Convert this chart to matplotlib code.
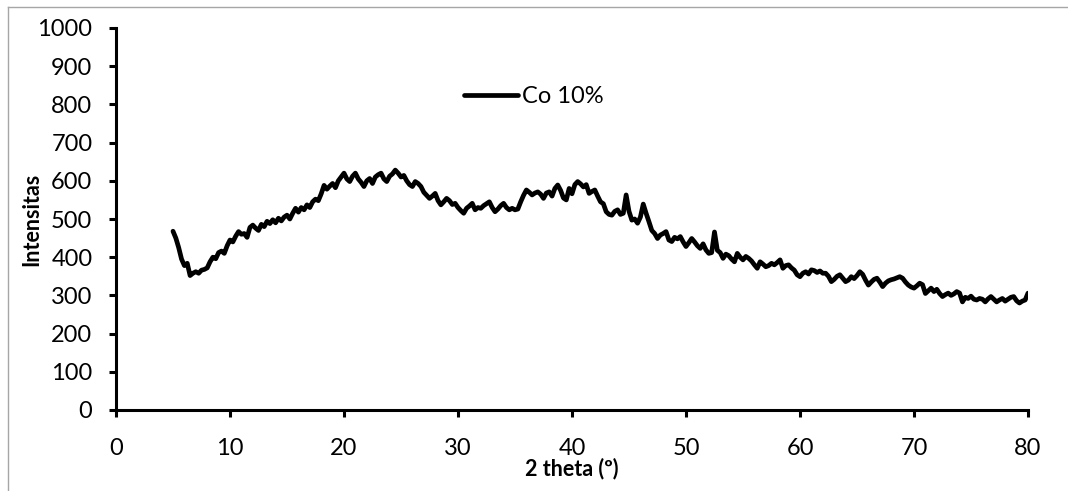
import numpy as np
import matplotlib
matplotlib.use("Agg")
import matplotlib.pyplot as plt
from matplotlib.lines import Line2D

# XRD scan: 2-theta from 5 to 80 degrees, step 0.25
theta_start = 5.0
theta_end = 80.0
theta_step = 0.25

intensity = [
    468, 450, 425, 395, 378, 384, 352, 358, 362, 358, 366, 368, 372, 388, 400, 396, 412, 416, 410, 430,
    445, 440, 455, 467, 460, 462, 452, 478, 484, 476, 470, 486, 480, 494, 488, 498, 490, 502, 495, 505,
    510, 500, 515, 528, 518, 530, 524, 537, 530, 545, 552, 548, 566, 588, 578, 586, 593, 582, 600, 610,
    620, 605, 598, 612, 620, 605, 596, 585, 600, 606, 593, 610, 616, 620, 605, 598, 612, 618, 628, 620,
    610, 614, 600, 590, 585, 598, 593, 585, 570, 562, 554, 560, 567, 548, 537, 545, 554, 548, 538, 541,
    530, 522, 515, 528, 534, 541, 524, 530, 528, 535, 540, 545, 530, 519, 526, 535, 541, 530, 524, 528,
    524, 526, 545, 562, 576, 570, 563, 568, 571, 565, 554, 568, 571, 560, 580, 589, 575, 555, 550, 580,
    566, 590, 598, 592, 584, 590, 567, 572, 576, 560, 545, 540, 519, 512, 510, 520, 524, 512, 515, 563,
    520, 497, 500, 489, 505, 539, 515, 493, 470, 462, 449, 458, 462, 467, 445, 441, 452, 448, 454, 440,
    428, 438, 449, 440, 430, 423, 435, 419, 410, 412, 466, 418, 412, 397, 408, 404, 395, 388, 410, 400,
    393, 402, 397, 390, 380, 371, 388, 382, 375, 378, 384, 380, 386, 393, 371, 378, 380, 372, 366, 354,
    349, 358, 362, 356, 367, 365, 360, 364, 358, 358, 350, 336, 342, 350, 354, 345, 336, 340, 349, 344,
    352, 362, 355, 340, 327, 335, 342, 345, 335, 323, 332, 338, 341, 343, 346, 349, 345, 335, 327, 322,
    319, 325, 332, 328, 305, 312, 319, 310, 316, 305, 297, 302, 306, 300, 304, 310, 306, 283, 295, 292,
    298, 290, 288, 292, 290, 283, 291, 297, 290, 283, 288, 292, 285, 290, 295, 297, 286, 280, 285, 288,
    306,
]

two_theta = theta_start + theta_step * np.arange(len(intensity))

x_ticks = [0, 10, 20, 30, 40, 50, 60, 70, 80]
y_ticks = [0, 100, 200, 300, 400, 500, 600, 700, 800, 900, 1000]

series_label = "Co 10%"
x_label = "2 theta (º)"
y_label = "Intensitas"

plt.rcParams["font.family"] = ["Lato", "DejaVu Sans"]

fig = plt.figure(figsize=(10.68, 4.91), dpi=100)
ax = fig.add_axes([116 / 1068, 1 - 410 / 491, 912 / 1068, 382 / 491])

ax.plot(two_theta, intensity, color="black", lw=3.4, label=series_label,
        solid_joinstyle="round", solid_capstyle="round")

ax.set_xlim(0, 80)
ax.set_ylim(0, 1000)
ax.set_xticks(x_ticks)
ax.set_yticks(y_ticks)

for side in ("top", "right"):
    ax.spines[side].set_visible(False)
for side in ("left", "bottom"):
    ax.spines[side].set_linewidth(2.2)
    ax.spines[side].set_color("black")

ax.tick_params(axis="both", direction="out", length=5, width=2.2,
               labelsize=17, colors="black")
ax.tick_params(axis="y", pad=12)
ax.tick_params(axis="x", pad=15)

ax.set_xlabel(x_label, fontsize=15.5, fontweight="bold", va="center")
ax.set_ylabel(y_label, fontsize=15.5, fontweight="bold", va="center")
ax.xaxis.set_label_coords((572 - 116) / 912, (410 - 469) / 382)
ax.yaxis.set_label_coords((32 - 116) / 912, 0.5)

ax.legend(loc="center left", bbox_to_anchor=(0.382, 0.82), frameon=False,
          fontsize=17, handlelength=2.25, handletextpad=0.17,
          borderpad=0, borderaxespad=0)

# light outer frame on the left and top edges of the chart area
frame_color = "#a6a6a6"
fig.add_artist(Line2D([8 / 1068, 8 / 1068], [0, 1 - 7 / 491], transform=fig.transFigure,
                      color=frame_color, lw=1.0))
fig.add_artist(Line2D([8 / 1068, 1], [1 - 7 / 491, 1 - 7 / 491], transform=fig.transFigure,
                      color=frame_color, lw=1.0))

fig.savefig("out.png", dpi=100)
